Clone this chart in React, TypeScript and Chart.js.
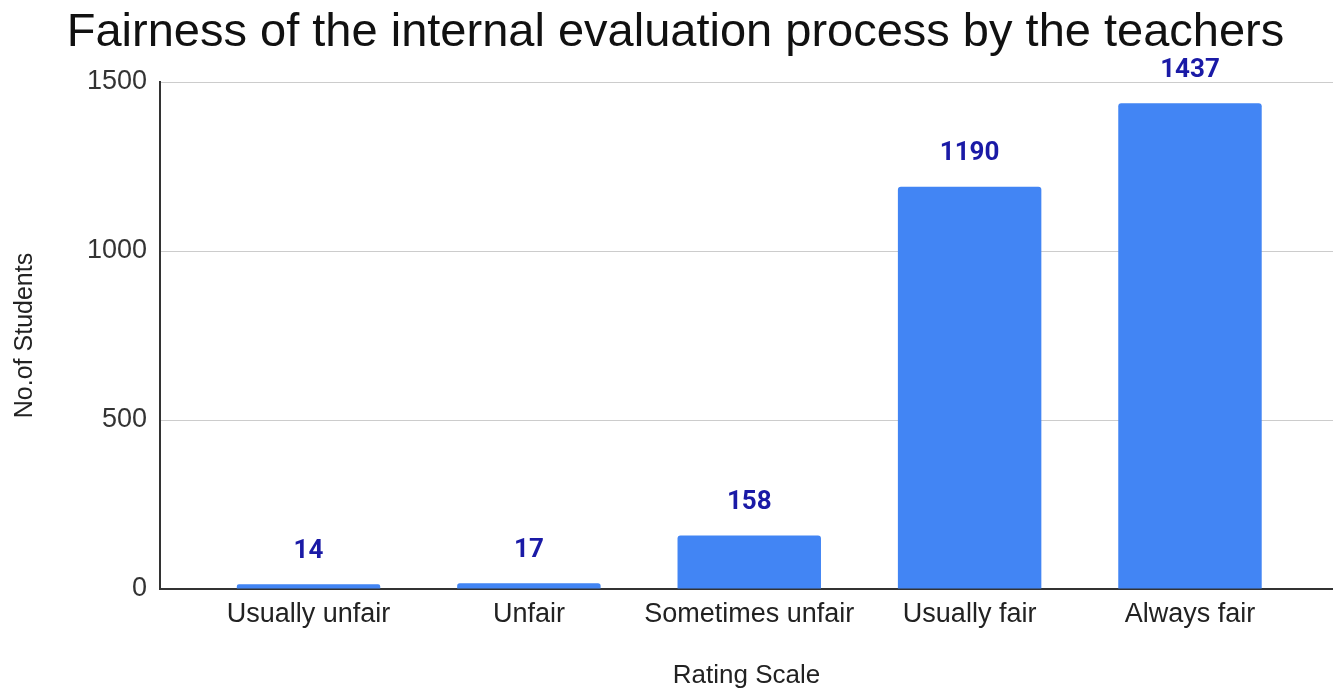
import React, { useEffect, useRef } from "react";
import { Chart, registerables } from "chart.js";

Chart.register(...registerables);

const chartTitle = "Fairness of the internal evaluation process by the teachers";
const categories = ["Usually unfair", "Unfair", "Sometimes unfair", "Usually fair", "Always fair"];
const studentCounts = [14, 17, 158, 1190, 1437];
const yTickValues = [0, 500, 1000, 1500];
const xAxisTitle = "Rating Scale";
const yAxisTitle = "No.of Students";

const valueLabels = {
  id: "valueLabels",
  afterDatasetsDraw(chart: any) {
    const ctx = chart.ctx;
    const meta = chart.getDatasetMeta(0);
    ctx.save();
    ctx.font = "bold 26px Roboto, 'Liberation Sans', sans-serif";
    ctx.fillStyle = "#1a1aa6";
    ctx.textAlign = "center";
    ctx.textBaseline = "middle";
    meta.data.forEach((bar: any, i: number) => {
      ctx.fillText(String(studentCounts[i]), bar.x, bar.y - 33);
    });
    ctx.restore();
  },
};

export default function App() {
  const canvasRef = useRef<HTMLCanvasElement>(null);

  useEffect(() => {
    if (!canvasRef.current) return;
    const chart = new Chart(canvasRef.current, {
      type: "bar",
      data: {
        datasets: [
          {
            data: categories.map((_, i) => ({ x: i, y: studentCounts[i] })),
            backgroundColor: "#4285F4",
            borderRadius: 3,
            categoryPercentage: 1,
            barPercentage: 0.651,
          },
        ],
      },
      options: {
        animation: false,
        responsive: true,
        maintainAspectRatio: false,
        layout: { padding: { left: 18, right: 0, top: 0, bottom: 0 } },
        plugins: {
          legend: { display: false },
          tooltip: { enabled: false },
          title: {
            display: true,
            text: chartTitle,
            color: "#111",
            font: { family: "'Liberation Sans', Arial, sans-serif", size: 47, weight: "normal" },
            padding: { top: 5, bottom: 20.6 },
          },
        },
        scales: {
          x: {
            type: "linear",
            min: -0.674,
            max: 4.649,
            offset: false,
            grid: { display: false, offset: false, drawTicks: false },
            border: { display: true, color: "#333", width: 2 },
            afterBuildTicks: (scale: any) => {
              scale.ticks = categories.map((_, i) => ({ value: i }));
            },
            afterFit: (scale: any) => {
              scale.height = 99;
            },
            ticks: {
              autoSkip: false,
              maxRotation: 0,
              minRotation: 0,
              padding: 9,
              color: "#222",
              font: { family: "'Liberation Sans', Arial, sans-serif", size: 27 },
              callback: (v: any) => categories[v as number] ?? "",
            },
            title: {
              display: true,
              text: xAxisTitle,
              color: "#222",
              font: { family: "'Liberation Sans', Arial, sans-serif", size: 26 },
              padding: { top: 0, bottom: -3 },
            },
          },
          y: {
            min: 0,
            max: 1500,
            afterBuildTicks: (scale: any) => {
              scale.ticks = yTickValues.map((v) => ({ value: v }));
            },
            afterFit: (scale: any) => {
              scale.width = 142;
            },
            grid: { color: "#cccccc", lineWidth: 1, drawTicks: false },
            border: { display: true, color: "#333", width: 2 },
            ticks: {
              padding: 13,
              color: "#333",
              font: { family: "'Liberation Sans', Arial, sans-serif", size: 27 },
              callback: (v: any) => String(v),
            },
            title: {
              display: true,
              text: yAxisTitle,
              color: "#222",
              font: { family: "'Liberation Sans', Arial, sans-serif", size: 25 },
              padding: { top: -8, bottom: 0 },
            },
          },
        },
      } as any,
      plugins: [valueLabels],
    });
    return () => chart.destroy();
  }, []);

  return (
    <div style={{ position: "absolute", left: 0, top: 0, width: 1333, height: 688, background: "#fff" }}>
      <canvas ref={canvasRef} />
    </div>
  );
}
